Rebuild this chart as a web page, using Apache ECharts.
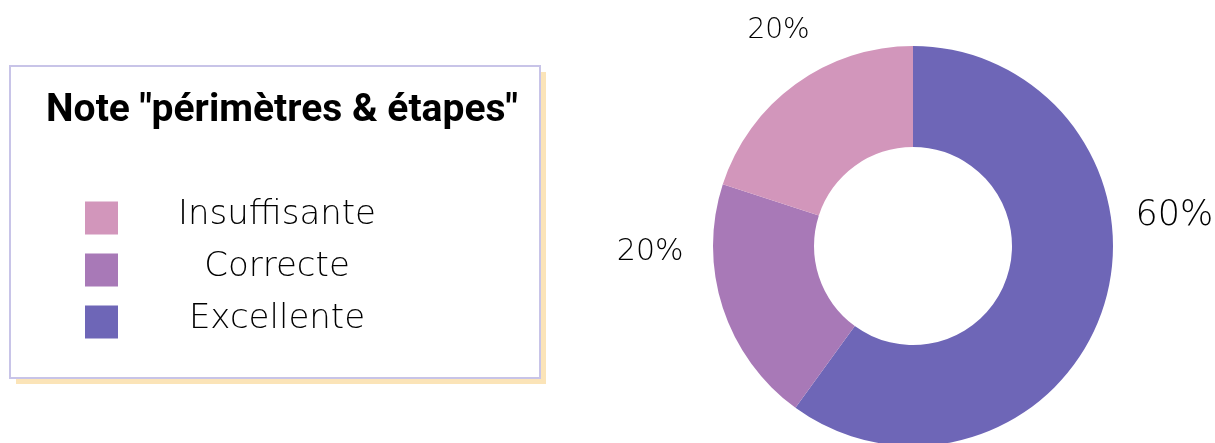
<!DOCTYPE html>
<html>
<head>
<meta charset="utf-8">
<script src="https://cdn.jsdelivr.net/npm/echarts@6/dist/echarts.min.js"></script>
<style>
  html, body { margin: 0; padding: 0; background: #ffffff; }
  #chart { width: 1215px; height: 443px; }
</style>
</head>
<body>
<div id="chart"></div>
<script>
// ---- data ----
const titleText = 'Note "périmètres & étapes"';
const categories = ['Excellente', 'Correcte', 'Insuffisante'];   // clockwise from 12 o'clock
const values = [60, 20, 20];
const legendOrder = ['Insuffisante', 'Correcte', 'Excellente'];

// ---- styles ----
const colors = { 'Excellente': '#6e66b7', 'Correcte': '#a879b7', 'Insuffisante': '#d296bb' };
const labelFont = { 'Excellente': 35, 'Correcte': 30, 'Insuffisante': 28 };
const labelShift = { 'Excellente': [-17, -97], 'Correcte': [10, -60], 'Insuffisante': [58, -41] };
const lightFont = '"DejaVu Sans", "Open Sans", sans-serif';

const chart = echarts.init(document.getElementById('chart'), null, { renderer: 'canvas' });

const option = {
  backgroundColor: '#ffffff',
  animation: false,
  graphic: [{
    type: 'rect',
    z: 0,
    shape: { x: 16, y: 72, width: 530, height: 312 },
    style: { fill: '#fbe4b8' }
  }, {
    type: 'rect',
    z: 1,
    shape: { x: 10, y: 66, width: 530, height: 312 },
    style: { fill: '#ffffff', stroke: '#c8c4e8', lineWidth: 2 }
  }],
  title: {
    text: titleText,
    left: 277,
    top: 87,
    textAlign: 'center',
    textStyle: {
      fontFamily: 'Roboto, sans-serif',
      fontWeight: 'bold',
      fontSize: 39,
      color: '#000000'
    }
  },
  legend: {
    orient: 'vertical',
    left: 85,
    top: 198,
    padding: 0,
    itemWidth: 33,
    itemHeight: 33,
    itemGap: 12,
    icon: 'rect',
    selectedMode: false,
    data: legendOrder,
    formatter: '{n|{name}}',
    textStyle: {
      rich: {
        n: {
          width: 308,
          align: 'center',
          fontFamily: lightFont,
          fontWeight: 200,
          fontSize: 34,
          lineHeight: 27,
          color: '#000000',
          padding: [0, 0, 6, 0]
        }
      }
    }
  },
  series: [{
    type: 'pie',
    center: [913, 246],
    radius: [99, 200],
    startAngle: 90,
    clockwise: true,
    avoidLabelOverlap: false,
    silent: true,
    label: {
      show: true,
      position: 'outside',
      formatter: '{d}%',
      fontFamily: lightFont,
      fontWeight: 200,
      color: '#000000'
    },
    labelLine: { show: false },
    labelLayout: function (params) {
      const name = categories[params.dataIndex];
      const s = labelShift[name];
      return { dx: s[0], dy: s[1] };
    },
    data: categories.map(function (c, i) {
      return {
        name: c,
        value: values[i],
        itemStyle: { color: colors[c] },
        label: { fontSize: labelFont[c] }
      };
    })
  }]
};

chart.setOption(option);
</script>
</body>
</html>
